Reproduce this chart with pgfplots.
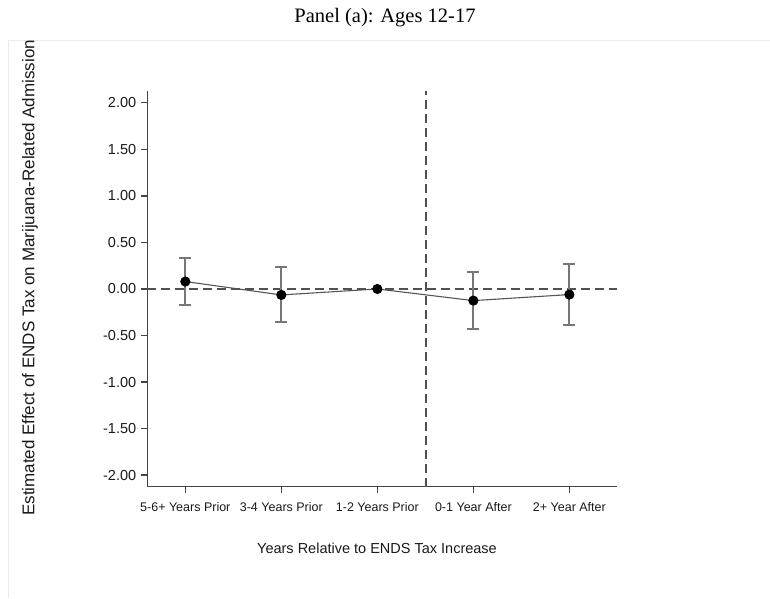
\documentclass[border=0pt]{standalone}
\usepackage{fontspec}
\setmainfont{Liberation Sans}
\newfontfamily\titlefont{Liberation Serif}
\usepackage{pgfplots}
\usepackage{pgfplotstable}
\pgfplotsset{compat=1.18}
\definecolor{axgray}{HTML}{444444}
\definecolor{linegray}{HTML}{555555}
\definecolor{errgray}{HTML}{777777}
\definecolor{dashgray}{HTML}{505050}
\definecolor{framegray}{HTML}{EBEBEB}
\definecolor{txt}{HTML}{1A1A1A}

\pgfplotstableread{
x y ep em
0 0.080 0.257 0.248
1 -0.064 0.297 0.290
3 -0.125 0.308 0.308
4 -0.060 0.329 0.327
}\cidata

\begin{document}
\begin{tikzpicture}[x=1pt,y=1pt]
\fill[white] (0,0) rectangle (770,-598);
\draw[framegray, line width=0.8pt] (8,-598) -- (8,-40) -- (770,-40);
\node[font=\titlefont\fontsize{20.5}{24}\selectfont, text=black] at (385,-18) {Panel (a): Ages 12-17};
\node[font=\fontsize{14.5}{17}\selectfont, text=txt] at (377,-548) {Years Relative to ENDS Tax Increase};
\begin{axis}[
  at={(193,-310.5)}, anchor=origin,
  scale only axis, width=470pt, height=396pt,
  xmin=-0.395, xmax=4.5, ymin=-2.125, ymax=2.13,
  axis lines*=left,
  axis line style={axgray, line width=1.3pt},
  tick style={axgray, line width=1.3pt},
  tick align=outside, major tick length=6pt,
  xtick={0,1,2,3,4},
  xticklabels={5-6+ Years Prior, 3-4 Years Prior, 1-2 Years Prior, 0-1 Year After, 2+ Year After},
  ytick={-2,-1.5,-1,-0.5,0,0.5,1,1.5,2},
  /pgf/number format/fixed, /pgf/number format/fixed zerofill,
  /pgf/number format/precision=2, /pgf/number format/assume math mode=true,
  yticklabel style={font=\fontsize{14.5}{16}\selectfont, inner sep=0pt, xshift=-5pt, text=txt},
  xticklabel style={font=\fontsize{12.5}{15}\selectfont, inner sep=0pt, yshift=-9pt, text=txt,
    text height=9.5pt, text depth=3pt, anchor=north},
  clip=false,
]
\draw[dashgray, line width=1.5pt, dash pattern=on 9pt off 5pt] (axis cs:-0.395,0) -- (axis cs:4.5,0);
\draw[dashgray, line width=1.9pt, dash pattern=on 9pt off 5pt] (axis cs:2.505,-2.125) -- (axis cs:2.505,2.13);
\addplot[draw=none, forget plot,
  error bars/.cd, y dir=both, y explicit,
  error bar style={draw=errgray, line width=1.8pt},
  error mark options={rotate=90, mark size=6pt, draw=errgray, line width=1.8pt}]
  table[x=x, y=y, y error plus=ep, y error minus=em] {\cidata};
\addplot[linegray, line width=1.1pt, mark=*, mark size=4.5pt, mark options={fill=black, draw=black, solid}]
  coordinates {(0,0.080) (1,-0.064) (2,0) (3,-0.125) (4,-0.060)};
\end{axis}
\begin{scope}
\clip (8,-40) rectangle (770,-598);
\node[rotate=90, anchor=west, font=\fontsize{17}{20}\selectfont, inner sep=0pt, text=txt] at (30,-516) {Estimated Effect of ENDS Tax on Marijuana-Related Admissions};
\end{scope}
\pgfresetboundingbox
\path[use as bounding box] (0,0) rectangle (770,-598);
\end{tikzpicture}
\end{document}
